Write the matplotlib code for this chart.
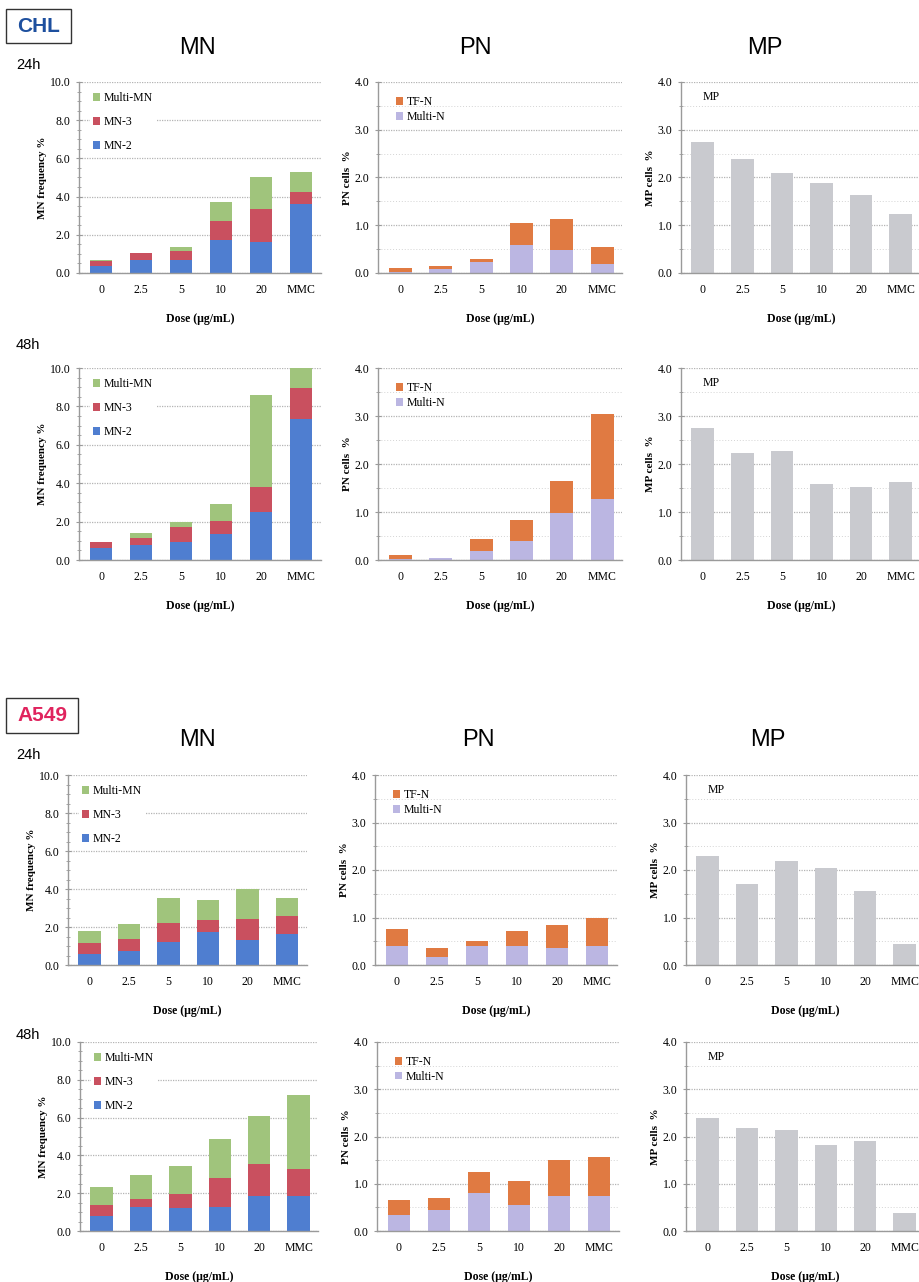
import matplotlib
matplotlib.use('Agg')
import matplotlib.pyplot as plt
from matplotlib.patches import Rectangle
from matplotlib.ticker import MultipleLocator

doses = ['0', '2.5', '5', '10', '20', 'MMC']

# CHL, micronuclei (%)
chl_mn2_24 = [0.35, 0.68, 0.68, 1.73, 1.63, 3.60]
chl_mn3_24 = [0.28, 0.35, 0.45, 0.99, 1.70, 0.66]
chl_multi_24 = [0.05, 0.02, 0.24, 1.02, 1.70, 1.03]
chl_mn2_48 = [0.60, 0.80, 0.93, 1.35, 2.50, 7.35]
chl_mn3_48 = [0.32, 0.33, 0.78, 0.70, 1.32, 1.60]
chl_multi_48 = [0.00, 0.30, 0.26, 0.88, 4.75, 1.05]

# CHL, polynuclear cells (%)
chl_pn_multi_24 = [0.03, 0.08, 0.23, 0.58, 0.48, 0.18]
chl_pn_tf_24 = [0.08, 0.07, 0.07, 0.46, 0.66, 0.36]
chl_pn_multi_48 = [0.03, 0.04, 0.19, 0.39, 0.98, 1.28]
chl_pn_tf_48 = [0.07, 0.00, 0.25, 0.45, 0.67, 1.76]

# CHL, mitotic cells (%)
chl_mp_24 = [2.74, 2.38, 2.09, 1.89, 1.64, 1.24]
chl_mp_48 = [2.74, 2.23, 2.28, 1.58, 1.53, 1.63]

# A549, micronuclei (%)
a549_mn2_24 = [0.58, 0.75, 1.19, 1.72, 1.32, 1.61]
a549_mn3_24 = [0.56, 0.60, 1.00, 0.65, 1.08, 0.97]
a549_multi_24 = [0.67, 0.79, 1.32, 1.05, 1.60, 0.93]
a549_mn2_48 = [0.79, 1.25, 1.20, 1.29, 1.87, 1.85]
a549_mn3_48 = [0.57, 0.42, 0.74, 1.54, 1.70, 1.41]
a549_multi_48 = [0.95, 1.29, 1.49, 2.05, 2.52, 3.92]

# A549, polynuclear cells (%)
a549_pn_multi_24 = [0.40, 0.16, 0.39, 0.40, 0.35, 0.40]
a549_pn_tf_24 = [0.35, 0.20, 0.11, 0.31, 0.50, 0.60]
a549_pn_multi_48 = [0.34, 0.45, 0.80, 0.55, 0.74, 0.74]
a549_pn_tf_48 = [0.31, 0.25, 0.45, 0.51, 0.77, 0.82]

# A549, mitotic cells (%)
a549_mp_24 = [2.30, 1.70, 2.20, 2.04, 1.55, 0.45]
a549_mp_48 = [2.39, 2.19, 2.14, 1.81, 1.90, 0.39]

C_MN2 = '#4f7ed0'
C_MN3 = '#c9505f'
C_MULTI = '#a0c47c'
C_TF = '#e07a42'
C_PNM = '#bbb6e2'
C_MP = '#c9cacf'
GRID = '#b4b4b4'

W, H = 919, 1282
SERIF = 'Liberation Serif'
SANS = 'Liberation Sans'

fig = plt.figure(figsize=(W / 100, H / 100), dpi=100)


def make_ax(left, top, bottom, step=40):
    x_lo = -0.55
    x_hi = 5.5
    width = (x_hi - x_lo) * step
    ax = fig.add_axes([left / W, 1 - bottom / H, width / W, (bottom - top) / H])
    ax.set_xlim(x_lo, x_hi)
    return ax


def style_ax(ax, ymax, major, minor, ylabel, minor_grid):
    ax.set_ylim(0, ymax)
    ax.yaxis.set_major_locator(MultipleLocator(major))
    ax.yaxis.set_minor_locator(MultipleLocator(minor))
    ax.yaxis.grid(True, which='major', color=GRID, linestyle=(0, (1, 1)), linewidth=0.9)
    if minor_grid:
        ax.yaxis.grid(True, which='minor', color='#d4d4d4', linestyle=(0, (1, 2)), linewidth=0.7)
    ax.set_axisbelow(True)
    for s in ['top', 'right']:
        ax.spines[s].set_visible(False)
    for s in ['left', 'bottom']:
        ax.spines[s].set_color('#9a9a9a')
        ax.spines[s].set_linewidth(1.0)
    ax.set_xticks(range(len(doses)))
    ax.set_xticklabels(doses, fontfamily=SERIF, fontsize=8.5)
    ax.tick_params(axis='x', length=0, pad=8)
    ax.tick_params(axis='y', which='both', direction='inout', color='#9a9a9a', labelsize=8.5, pad=4)
    ax.tick_params(axis='y', which='major', length=4)
    ax.tick_params(axis='y', which='minor', length=3)
    ax.set_yticklabels([f'{v:.1f}' for v in ax.get_yticks()], fontfamily=SERIF)
    ax.set_xlabel('Dose (μg/mL)', fontfamily=SERIF, fontweight='bold', fontsize=8.5, labelpad=12)
    ax.set_ylabel(ylabel, fontfamily=SERIF, fontweight='bold', fontsize=8, labelpad=2)


def mn_panel(ax, mn2, mn3, multi):
    x = range(len(doses))
    b1 = ax.bar(x, mn2, width=0.57, color=C_MN2)
    base = [a + b for a, b in zip(mn2, mn3)]
    b2 = ax.bar(x, mn3, width=0.57, bottom=mn2, color=C_MN3)
    b3 = ax.bar(x, multi, width=0.57, bottom=base, color=C_MULTI)
    style_ax(ax, 10, 2, 0.5, 'MN frequency %', False)
    ax.legend([b3, b2, b1], ['Multi-MN', 'MN-3', 'MN-2'], loc='upper left',
              bbox_to_anchor=(0.02, 0.995), frameon=True, fancybox=False,
              edgecolor='none', facecolor='white', framealpha=1,
              handlelength=0.6, handleheight=0.6, handletextpad=0.3,
              labelspacing=1.0, borderpad=0.3, prop={'family': SERIF, 'size': 8.5})


def pn_panel(ax, multi, tf):
    x = range(len(doses))
    b1 = ax.bar(x, multi, width=0.57, color=C_PNM)
    b2 = ax.bar(x, tf, width=0.57, bottom=multi, color=C_TF)
    style_ax(ax, 4, 1, 0.5, 'PN cells  %', True)
    ax.legend([b2, b1], ['TF-N', 'Multi-N'], loc='upper left',
              bbox_to_anchor=(0.04, 0.97), frameon=False,
              handlelength=0.6, handleheight=0.6, handletextpad=0.3,
              labelspacing=0.25, borderpad=0.2, prop={'family': SERIF, 'size': 8.5})


def mp_panel(ax, mp):
    ax.bar(range(len(doses)), mp, width=0.57, color=C_MP)
    style_ax(ax, 4, 1, 0.5, 'MP cells  %', True)
    ax.text(0.09, 0.92, 'MP', transform=ax.transAxes, fontfamily=SERIF, fontsize=8.5,
            va='center', ha='left')


# CHL block
mn_panel(make_ax(79, 82, 273), chl_mn2_24, chl_mn3_24, chl_multi_24)
pn_panel(make_ax(378, 82, 273, 40.4), chl_pn_multi_24, chl_pn_tf_24)
mp_panel(make_ax(681, 82, 273, 39.6), chl_mp_24)
mn_panel(make_ax(79, 368, 560), chl_mn2_48, chl_mn3_48, chl_multi_48)
pn_panel(make_ax(378, 368, 560, 40.4), chl_pn_multi_48, chl_pn_tf_48)
mp_panel(make_ax(681, 368, 560, 39.6), chl_mp_48)

# A549 block
mn_panel(make_ax(68, 775, 965, 39.5), a549_mn2_24, a549_mn3_24, a549_multi_24)
pn_panel(make_ax(375, 775, 965), a549_pn_multi_24, a549_pn_tf_24)
mp_panel(make_ax(686, 775, 965, 39.4), a549_mp_24)
mn_panel(make_ax(80, 1042, 1231, 39.4), a549_mn2_48, a549_mn3_48, a549_multi_48)
pn_panel(make_ax(377, 1042, 1231), a549_pn_multi_48, a549_pn_tf_48)
mp_panel(make_ax(686, 1042, 1231, 39.4), a549_mp_48)


def fig_text(x, y, s, **kw):
    fig.text(x / W, 1 - y / H, s, **kw)


def cell_box(x0, y0, x1, y1, label, color):
    fig.patches.append(Rectangle((x0 / W, 1 - y1 / H), (x1 - x0) / W, (y1 - y0) / H,
                                 transform=fig.transFigure, fill=False,
                                 edgecolor='#333333', linewidth=1.0))
    fig_text((x0 + x1) / 2, (y0 + y1) / 2, label, fontfamily=SANS, fontweight='bold',
             fontsize=15, color=color, ha='center', va='center')


cell_box(6, 9, 71, 43, 'CHL', '#1d4f9e')
cell_box(6, 698, 78, 733, 'A549', '#e0245e')

for y, titles in [(48, (197, 475, 765)), (740, (197, 478, 768))]:
    for x, t in zip(titles, ['MN', 'PN', 'MP']):
        fig_text(x, y, t, fontfamily=SANS, fontsize=17, ha='center', va='center')

for x, y, t in [(16, 65, '24h'), (16, 345, '48h'), (16, 755, '24h'), (16, 1035, '48h')]:
    fig_text(x, y, t, fontfamily=SANS, fontsize=10.5, ha='left', va='center')

fig.savefig('out.png', dpi=100)
